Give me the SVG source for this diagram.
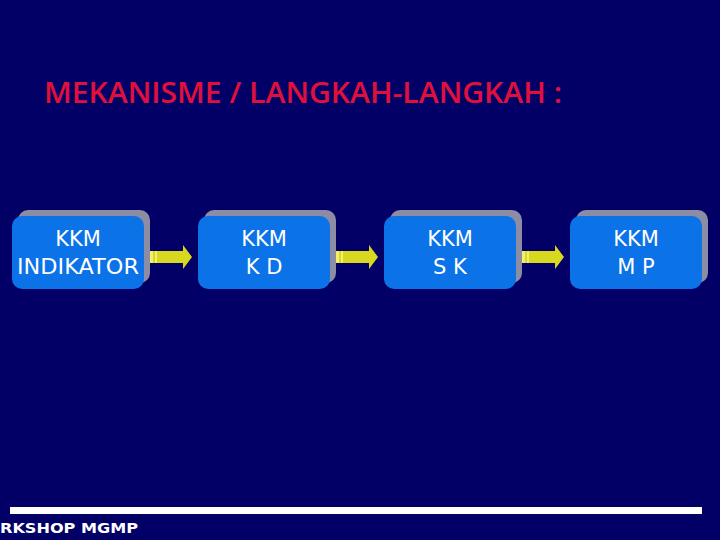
<svg xmlns="http://www.w3.org/2000/svg" width="720" height="540" viewBox="0 0 720 540">
<defs>
<style>
.sh{fill:#8c8ca4}
.bx{fill:#0b72e8}
.t{font-family:"DejaVu Sans","Liberation Sans",sans-serif;font-size:21px;fill:#ffffff;text-anchor:middle}
.ar{fill:#d8d820}
.st{fill:#f0f070}
</style>
<g id="arrowshape">
<path d="M0,6 H33 V0 L42,12 L33,24 V18 H0 Z" class="ar"/>
<rect x="0" y="6" width="3" height="12" class="st"/>
<rect x="5" y="6" width="2" height="12" class="st"/>
</g>
</defs>
<rect width="720" height="540" fill="#020066"/>
<text x="44" y="103" font-family="'Open Sans','Liberation Sans',sans-serif" font-weight="600" font-size="29" fill="#e0103c" textLength="518" lengthAdjust="spacingAndGlyphs">MEKANISME / LANGKAH-LANGKAH :</text>
<g id="node1">
<rect x="18" y="210" width="132" height="73" rx="10" class="sh"/>
<rect x="12" y="216" width="132" height="73" rx="10" class="bx"/>
<text x="78" y="246" class="t">KKM</text>
<text x="78" y="274" class="t" textLength="122" lengthAdjust="spacingAndGlyphs">INDIKATOR</text>
</g>
<g id="node2">
<rect x="204" y="210" width="132" height="73" rx="10" class="sh"/>
<rect x="198" y="216" width="132" height="73" rx="10" class="bx"/>
<text x="264" y="246" class="t">KKM</text>
<text x="264" y="274" class="t">K D</text>
</g>
<g id="node3">
<rect x="390" y="210" width="132" height="73" rx="10" class="sh"/>
<rect x="384" y="216" width="132" height="73" rx="10" class="bx"/>
<text x="450" y="246" class="t">KKM</text>
<text x="450" y="274" class="t">S K</text>
</g>
<g id="node4">
<rect x="576" y="210" width="132" height="73" rx="10" class="sh"/>
<rect x="570" y="216" width="132" height="73" rx="10" class="bx"/>
<text x="636" y="246" class="t">KKM</text>
<text x="636" y="274" class="t">M P</text>
</g>
<g id="connectors">
<use href="#arrowshape" x="150" y="245"/>
<use href="#arrowshape" x="336" y="245"/>
<use href="#arrowshape" x="522" y="245"/>
</g>
<rect x="10" y="507" width="692" height="7" fill="#ffffff"/>
<text x="0" y="533" font-family="'DejaVu Sans','Liberation Sans',sans-serif" font-weight="bold" font-size="14" fill="#ffffff" textLength="138" lengthAdjust="spacingAndGlyphs">RKSHOP MGMP</text>
</svg>
